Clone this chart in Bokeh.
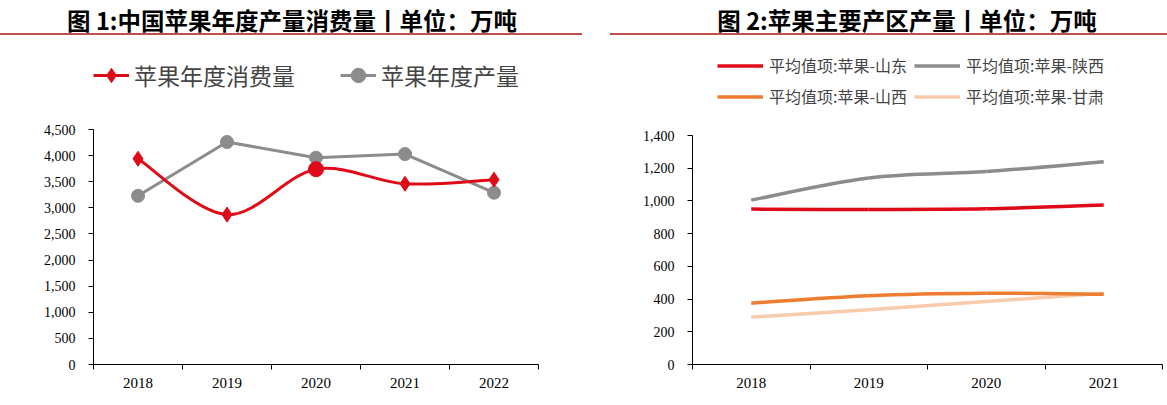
from bokeh.plotting import figure
from bokeh.models import (Range1d, FactorRange, LinearAxis, FixedTicker, NumeralTickFormatter,
                          Legend, LegendItem, ColumnDataSource, Div)
from bokeh.layouts import row, column
from bokeh.embed import file_html
from bokeh.resources import INLINE

# ---------------- data ----------------
years1 = ["2018", "2019", "2020", "2021", "2022"]
consumption = [3940, 2870, 3740, 3460, 3540]   # 苹果年度消费量
production = [3230, 4260, 3960, 4030, 3290]    # 苹果年度产量
y_ticks1 = [0, 500, 1000, 1500, 2000, 2500, 3000, 3500, 4000, 4500]

years2 = ["2018", "2019", "2020", "2021"]
shandong = [950, 948, 952, 975]
shaanxi = [1005, 1140, 1180, 1240]
shanxi = [375, 420, 435, 430]
gansu = [290, 335, 385, 435]
y_ticks2 = [0, 200, 400, 600, 800, 1000, 1200, 1400]

title1 = "图 1:中国苹果年度产量消费量丨单位：万吨"
title2 = "图 2:苹果主要产区产量丨单位：万吨"
labels1 = ["苹果年度消费量", "苹果年度产量"]
labels2 = ["平均值项:苹果-山东", "平均值项:苹果-陕西", "平均值项:苹果-山西", "平均值项:苹果-甘肃"]

# ---------------- styles ----------------
CJK = "Noto Sans CJK SC"
SERIF = "Liberation Serif"
RED = "#DE0A17"
GRAY = "#8C8C8C"
ORANGE = "#ED7D31"
PEACH = "#F8CBAD"
RULE = "#C0504D"

HEAD_H = 44
FIG_H = 356
BOTTOM = 36          # border below both frames (frames are aligned in the row)


def header(width, text, tx0, tx1, rx0, rx1):
    html = (
        f'<div style="position:relative;width:{width}px;height:{HEAD_H}px;">'
        f'<div style="position:absolute;left:{tx0}px;width:{tx1 - tx0}px;top:6px;'
        f'text-align:center;font-family:\'{CJK}\';font-size:23.5px;font-weight:bold;'
        f'line-height:28px;color:#000;white-space:nowrap;">{text}</div>'
        f'<div style="position:absolute;left:{rx0}px;width:{rx1 - rx0}px;top:33px;'
        f'height:2px;background:{RULE};"></div></div>'
    )
    return Div(text=html, width=width, height=HEAD_H, margin=0)


def smooth(cats, vals, t=1.0 / 6.0):
    """Bezier control points (Excel-like smoothing) using categorical offsets."""
    n = len(vals)
    d = dict(x0=[], y0=[], x1=[], y1=[], cx0=[], cy0=[], cx1=[], cy1=[])
    for i in range(n - 1):
        ip = max(i - 1, 0)
        inx = min(i + 2, n - 1)
        d["x0"].append(cats[i]); d["y0"].append(vals[i])
        d["x1"].append(cats[i + 1]); d["y1"].append(vals[i + 1])
        d["cx0"].append((cats[i], (i + 1 - ip) * t))
        d["cy0"].append(vals[i] + (vals[i + 1] - vals[ip]) * t)
        d["cx1"].append((cats[i + 1], -(inx - i) * t))
        d["cy1"].append(vals[i + 1] - (vals[inx] - vals[i]) * t)
    return ColumnDataSource(d)


def chart(width, cats, yticks, axis_px, mleft, mright):
    frame_h = FIG_H - BOTTOM
    ymax = yticks[-1] * frame_h / axis_px
    p = figure(width=width, height=FIG_H, x_range=FactorRange(factors=cats, range_padding=0),
               y_range=Range1d(0, ymax), toolbar_location=None, output_backend="svg",
               x_axis_type=None, min_border_left=mleft, min_border_right=mright,
               min_border_top=0, min_border_bottom=BOTTOM, outline_line_color=None)
    p.xgrid.visible = False
    p.ygrid.visible = False
    ya = p.yaxis[0]
    ya.ticker = FixedTicker(ticks=yticks)
    ya.bounds = (yticks[0], yticks[-1])
    ya.formatter = NumeralTickFormatter(format="0,0")
    ya.major_tick_out = 5
    ya.major_tick_in = 0
    ya.minor_tick_out = 0
    ya.major_label_standoff = 13
    ya.major_label_text_font = SERIF
    ya.major_label_text_font_size = "14px"
    ya.major_label_text_color = "black"
    ya.axis_line_color = "black"
    n = len(cats)
    centers = [i + 0.5 for i in range(n)]
    xa = LinearAxis(ticker=FixedTicker(ticks=centers, minor_ticks=list(range(n + 1))),
                    major_label_overrides={c: cats[i] for i, c in enumerate(centers)})
    xa.major_tick_out = 0
    xa.major_tick_in = 0
    xa.minor_tick_out = 5
    xa.minor_tick_in = 0
    xa.major_label_standoff = 8
    xa.major_label_text_font = SERIF
    xa.major_label_text_font_size = "15px"
    xa.major_label_text_color = "black"
    xa.axis_line_color = "black"
    p.add_layout(xa, "below")
    return p


# ---------------- chart 1 ----------------
h1 = header(600, title1, 0, 584, 0, 582)
c1 = chart(600, years1, y_ticks1, 235, 93, 62)

gray_src = ColumnDataSource(dict(x=years1, y=production))
g_line = c1.line("x", "y", source=gray_src, line_color=GRAY, line_width=3)
g_pts = c1.scatter("x", "y", source=gray_src, marker="circle", size=13,
                   fill_color=GRAY, line_color=GRAY)

red_markers = ["diamond", "diamond", "circle", "diamond", "diamond"]
red_sizes = [15, 15, 15, 15, 15]
red_src = ColumnDataSource(dict(x=years1, y=consumption, m=red_markers, s=red_sizes))
r_curve = c1.bezier(x0="x0", y0="y0", x1="x1", y1="y1", cx0="cx0", cy0="cy0", cx1="cx1",
                    cy1="cy1", source=smooth(years1, consumption), line_color=RED, line_width=3)
r_pts = c1.scatter("x", "y", source=red_src, marker="m", size="s",
                   fill_color=RED, line_color=RED)

leg1 = Legend(items=[LegendItem(label=labels1[0], renderers=[r_curve, r_pts], index=0),
                     LegendItem(label=labels1[1], renderers=[g_line, g_pts], index=0)],
              orientation="horizontal", location=(0, 271), label_text_font=CJK,
              label_text_font_size="23px", glyph_width=36, glyph_height=36, label_height=36,
              label_standoff=5, spacing=45, padding=0, margin=0, border_line_color=None,
              background_fill_alpha=0)
c1.add_layout(leg1, "center")

# ---------------- chart 2 ----------------
h2 = header(567, title2, 0, 614, 10, 567)
c2 = chart(567, years2, y_ticks2, 229, 92, 5)

series = [shandong, shaanxi, shanxi, gansu]
colors = [RED, GRAY, ORANGE, PEACH]
renders = [None] * 4
for k in [3, 2, 1, 0]:
    renders[k] = c2.bezier(x0="x0", y0="y0", x1="x1", y1="y1", cx0="cx0", cy0="cy0",
                           cx1="cx1", cy1="cy1", source=smooth(years2, series[k]),
                           line_color=colors[k], line_width=3.5)
items = [LegendItem(label=labels2[k], renderers=[renders[k]]) for k in range(4)]

leg2 = Legend(items=items, orientation="horizontal", ncols=2, location=(25, 256),
              label_text_font=CJK, label_text_font_size="16px", glyph_width=46,
              glyph_height=19, label_height=19, label_width=134, label_standoff=6,
              spacing=7, padding=0, margin=0, border_line_color=None,
              background_fill_alpha=0)
c2.add_layout(leg2, "center")

layout = column(row(h1, h2), row(c1, c2))

open("out.html", "w").write(file_html(layout, INLINE))
